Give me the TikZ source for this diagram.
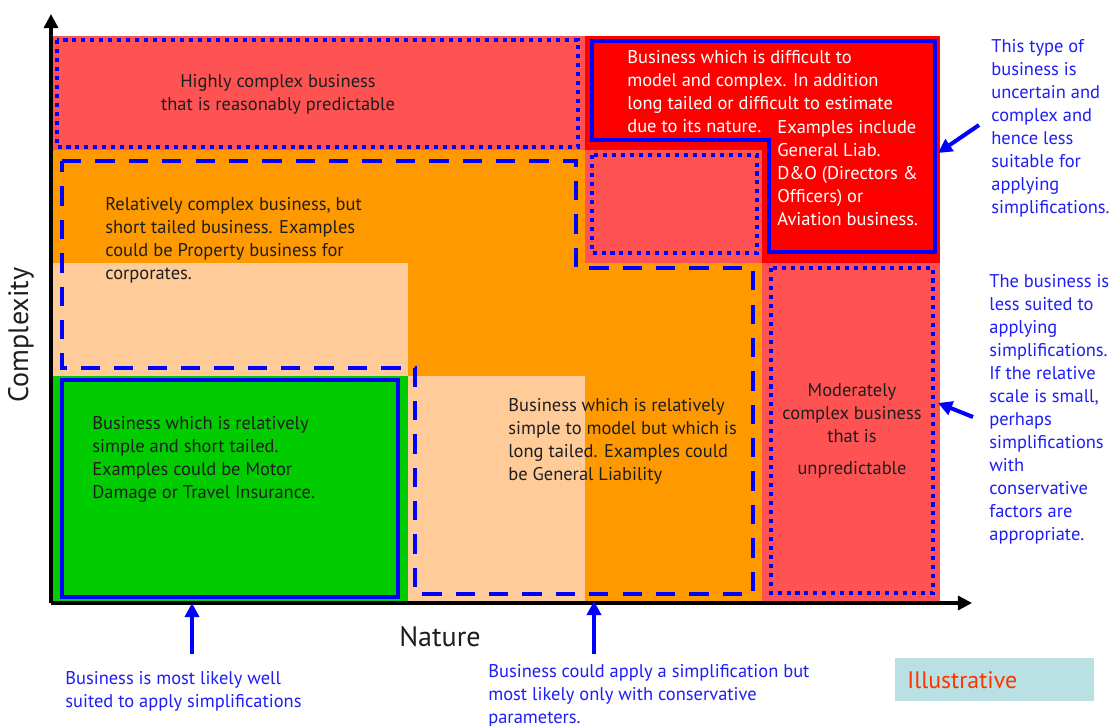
\documentclass[tikz,border=0pt]{standalone}
\usepackage{fontspec}
\setmainfont{PT Sans}
\usetikzlibrary{arrows.meta}

\definecolor{lightred}{RGB}{255,82,82}
\definecolor{brightred}{RGB}{255,0,0}
\definecolor{orangefill}{RGB}{255,153,0}
\definecolor{peach}{RGB}{255,204,153}
\definecolor{greenfill}{RGB}{0,204,0}
\definecolor{noteblue}{RGB}{30,30,245}
\definecolor{txtdark}{RGB}{30,30,30}
\definecolor{tagfill}{RGB}{185,224,226}
\definecolor{tagred}{RGB}{255,51,0}

\tikzset{
  txt/.style={font=\fontsize{10.5}{13.1}\selectfont, text=txtdark, inner sep=0pt, align=left},
  note/.style={txt, text=noteblue},
  axislabel/.style={font=\fontsize{16}{18}\selectfont, text=txtdark},
  dotbox/.style={draw=blue, line width=2.3pt, dash pattern=on 2.3pt off 2.8pt},
  dashbox/.style={draw=blue, line width=2.3pt, dash pattern=on 11pt off 8pt},
  solidbox/.style={draw=blue, line width=2.6pt},
  pointer/.style={draw=blue, line width=2.3pt, -{Triangle[length=8pt,width=8pt]}},
  axis/.style={draw=black, line width=1.8pt, -{Triangle[length=8pt,width=8pt]}}
}

\begin{document}
\begin{tikzpicture}[x=0.02cm, y=-0.02cm]
  \useasboundingbox (0,0) rectangle (1111,726);

  \fill[orangefill] (50,150) rectangle (762,603);
  \fill[lightred] (50,36) rectangle (585,150);
  \fill[brightred] (585,36) rectangle (940,263);
  \fill[lightred] (585,150) rectangle (762,263);
  \fill[lightred] (762,263) rectangle (940,603);
  \fill[peach] (50,263) rectangle (408,376);
  \fill[greenfill] (50,376) rectangle (408,603);
  \fill[peach] (408,376) rectangle (585,603);

  \draw[dotbox] (57,40) rectangle (578,147);
  \draw[dotbox] (592,155) rectangle (757,253);
  \draw[dotbox] (771,268) rectangle (933,593);
  \draw[solidbox] (592,41) -- (935,41) -- (935,252) -- (769,252) -- (769,140) -- (592,140) -- cycle;
  \draw[solidbox] (62,380) rectangle (398,597);
  \draw[dashbox] (62,161) -- (576,161) -- (576,268) -- (753,268) -- (753,594) -- (415,594) -- (415,368) -- (62,368) -- cycle;

  \coordinate (origin) at (51,603);
  \coordinate (ytop) at (51,14);
  \coordinate (xend) at (972,603);
  \draw[axis] (origin) -- (ytop);
  \draw[axis] (origin) -- (xend);

  \node[axislabel] (nature) at (440,637) {Nature};
  \node[axislabel, rotate=90] (complexity) at (21,335) {Complexity};

  \node[txt, align=center] (predictable) at (278,94) {Highly complex business\\that is reasonably predictable};
  \node[txt, anchor=west] (shorttail) at (105,240) {Relatively complex business, but\\short tailed business. Examples\\could be Property business for\\corporates.};
  \node[txt, anchor=west, text=white] (difficult) at (627,91.5) {Business which is difficult to\\model and complex. In addition\\long tailed or difficult to estimate\\due to its nature.};
  \node[txt, anchor=west, text=white] (examples) at (777,173) {Examples include\\General Liab.\\D\&O (Directors \&\\Officers) or\\Aviation business.};
  \node[txt, anchor=west] (simple) at (92,459.5) {Business which is relatively\\simple and short tailed.\\Examples could be Motor\\Damage or Travel Insurance.};
  \node[txt, anchor=west] (longtail) at (508,441) {Business which is relatively\\simple to model but which is\\long tailed. Examples could\\be General Liability};
  \node[txt, align=center] (moderate) at (852,431) {Moderately\\complex business\\that is\\[5.5pt]unpredictable};

  \node[note, anchor=west] (uncertain) at (991,128.5) {This type of\\business is\\uncertain and\\complex and\\hence less\\suitable for\\applying\\simplifications.};
  \node[note, anchor=west] (lesssuited) at (989,409) {The business is\\less suited to\\applying\\simplifications.\\If the relative\\scale is small,\\perhaps\\simplifications\\with\\conservative\\factors are\\appropriate.};
  \node[note, anchor=west] (wellsuited) at (65,691.5) {Business is most likely well\\suited to apply simplifications};
  \node[note, anchor=west] (conservative) at (488,695.5) {Business could apply a simplification but\\most likely only with conservative\\parameters.};

  \node[fill=tagfill, minimum width=199*0.02cm, minimum height=43*0.02cm, inner sep=0pt] (tag) at (994.5,679.5) {};
  \node[font=\fontsize{13.6}{15}\selectfont, text=tagred, anchor=west, inner sep=0pt] (illustrative) at (907,680) {Illustrative};

  \coordinate (tipA) at (938,153);
  \coordinate (tailA) at (979,125);
  \coordinate (tipB) at (938,403);
  \coordinate (tailB) at (973,417);
  \coordinate (tipC) at (192,603);
  \coordinate (tailC) at (192,654);
  \coordinate (tipD) at (594,601);
  \coordinate (tailD) at (594,654);
  \draw[pointer] (tailA) -- (tipA);
  \draw[pointer] (tailB) -- (tipB);
  \draw[pointer] (tailC) -- (tipC);
  \draw[pointer] (tailD) -- (tipD);
\end{tikzpicture}
\end{document}
